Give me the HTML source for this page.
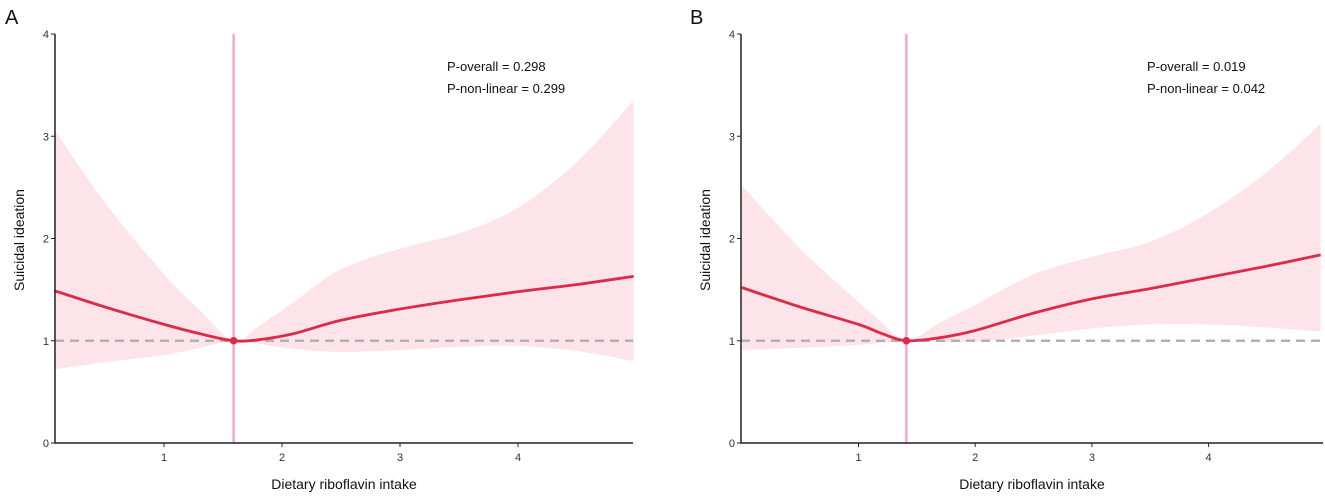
<!DOCTYPE html>
<html><head><meta charset="utf-8">
<style>
html,body{margin:0;padding:0;background:#fff;}
svg text{font-family:"Liberation Sans",sans-serif;}
</style></head>
<body>
<svg id="root" width="1325" height="496" viewBox="0 0 1325 496" xmlns="http://www.w3.org/2000/svg"></svg>
<script>
// Panel A data
const xsA = [0.07, 0.5, 1, 1.3, 1.59, 1.8, 2.1, 2.5, 3, 3.5, 4, 4.5, 4.98];
const fitA = [1.49, 1.33, 1.16, 1.07, 1.0, 1.01, 1.07, 1.2, 1.31, 1.4, 1.48, 1.55, 1.63];
const upA = [3.07, 2.35, 1.65, 1.3, 1.0, 1.14, 1.38, 1.7, 1.9, 2.05, 2.3, 2.75, 3.35];
const loA = [0.72, 0.79, 0.86, 0.93, 1.0, 0.97, 0.92, 0.89, 0.91, 0.94, 0.95, 0.9, 0.80];
const refA = 1.59;
const statsA = ["P-overall = 0.298", "P-non-linear = 0.299"];
// Panel B data
const xsB = [0.0, 0.5, 1, 1.2, 1.41, 1.7, 2, 2.5, 3, 3.5, 4, 4.5, 4.96];
const fitB = [1.52, 1.33, 1.16, 1.07, 1.0, 1.03, 1.1, 1.27, 1.41, 1.51, 1.62, 1.73, 1.84];
const upB = [2.52, 1.9, 1.38, 1.18, 1.0, 1.18, 1.35, 1.65, 1.82, 1.97, 2.25, 2.65, 3.12];
const loB = [0.91, 0.93, 0.96, 0.98, 1.0, 0.99, 0.99, 1.05, 1.12, 1.16, 1.16, 1.13, 1.09];
const refB = 1.41;
const statsB = ["P-overall = 0.019", "P-non-linear = 0.042"];
const xTicks = [1, 2, 3, 4];
const yTicks = [0, 1, 2, 3, 4];

const NS = "http://www.w3.org/2000/svg";
const root = document.getElementById('root');
function mk(tag, attrs, parent){
  const e = document.createElementNS(NS, tag);
  for (const k in attrs) e.setAttribute(k, attrs[k]);
  (parent || root).appendChild(e);
  return e;
}
function segs(pts){
  let d = "";
  for (let i = 0; i < pts.length - 1; i++){
    const p0 = pts[i-1] || pts[i], p1 = pts[i], p2 = pts[i+1], p3 = pts[i+2] || p2;
    const c1 = [p1[0] + (p2[0]-p0[0])/6, p1[1] + (p2[1]-p0[1])/6];
    const c2 = [p2[0] - (p3[0]-p1[0])/6, p2[1] - (p3[1]-p1[1])/6];
    d += "C" + c1[0] + "," + c1[1] + " " + c2[0] + "," + c2[1] + " " + p2[0] + "," + p2[1];
  }
  return d;
}
function smooth(pts){ return "M" + pts[0][0] + "," + pts[0][1] + segs(pts); }
function panel(cfg){
  const g = mk('g', {});
  
  
  const X = v => cfg.x0 + v * cfg.xs;
  const Y = v => 443 - v * 102.25;
  const x = cfg.xs_data, up = cfg.up, lo = cfg.lo, fit = cfg.fit;
  const upPts = x.map((v,i)=>[X(v), Y(up[i])]);
  const loPts = x.map((v,i)=>[X(v), Y(lo[i])]).reverse();
  const d = smooth(upPts) + "L" + loPts[0][0] + "," + loPts[0][1] + segs(loPts) + "Z";
  const band = mk('path', {d: d, fill: '#fde4ea', stroke: 'none'}, g);
  
  
  const ref = mk('line', {x1: cfg.axL, x2: cfg.axR, y1: Y(1), y2: Y(1), stroke: '#b3b0b3', 'stroke-width': 2.5, 'stroke-dasharray': '9,6'}, g);
  
  
  const vl = mk('line', {x1: X(cfg.ref), x2: X(cfg.ref), y1: 34, y2: 443, stroke: '#f0a8d4', 'stroke-width': 2.5}, g);
  
  
  const fl = mk('path', {d: smooth(x.map((v,i)=>[X(v), Y(fit[i])])), fill: 'none', stroke: '#dc2a48', 'stroke-width': 2.8}, g);
  
  
  const pt = mk('circle', {cx: X(cfg.ref), cy: Y(1), r: 3.8, fill: '#dc2a48'}, g);
  
  
  const ax = mk('path', {d: `M${cfg.axL},34V443H${cfg.axR}`, fill: 'none', stroke: '#222', 'stroke-width': 1.5}, g);
  
  
  yTicks.forEach(t=>{
    mk('line', {x1: cfg.axL-4, x2: cfg.axL, y1: Y(t), y2: Y(t), stroke: '#222', 'stroke-width': 1}, g);
    const tx = mk('text', {x: cfg.axL-6, y: Y(t)+4, 'text-anchor': 'end', 'font-size': 11, fill: '#333'}, g);
    tx.textContent = t;
    
    
  });
  xTicks.forEach(t=>{
    mk('line', {x1: X(t), x2: X(t), y1: 443, y2: 447, stroke: '#222', 'stroke-width': 1}, g);
    const tx = mk('text', {x: X(t), y: 461, 'text-anchor': 'middle', 'font-size': 11, fill: '#333'}, g);
    tx.textContent = t;
    
    
  });
  const xt = mk('text', {x: (cfg.axL+cfg.axR)/2, y: 489, 'text-anchor': 'middle', 'font-size': 14, fill: '#111'}, g);
  xt.textContent = 'Dietary riboflavin intake';
  
  
  const yt = mk('text', {x: 0, y: 0, transform: `translate(${cfg.axL-31},240) rotate(-90)`, 'text-anchor': 'middle', 'font-size': 14, fill: '#111'}, g);
  yt.textContent = 'Suicidal ideation';
  
  
  cfg.stats.forEach((s,i)=>{
    const st = mk('text', {x: cfg.statX, y: 71 + i*22, 'font-size': 13, fill: '#111'}, g);
    st.textContent = s;
    
    
  });
  const lt = mk('text', {x: cfg.letterX, y: 24, 'font-size': 20, fill: '#111'}, g);
  lt.textContent = cfg.letter;
  
  
}
panel({name:'panel-a', x0: 46, xs: 118, axL: 55, axR: 633, xs_data: xsA, fit: fitA, up: upA, lo: loA, ref: refA, stats: statsA, statX: 447, letter: 'A', letterX: 5});
panel({name:'panel-b', x0: 741.8, xs: 116.7, axL: 741, axR: 1323, xs_data: xsB, fit: fitB, up: upB, lo: loB, ref: refB, stats: statsB, statX: 1147, letter: 'B', letterX: 690});
</script>
</body></html>
